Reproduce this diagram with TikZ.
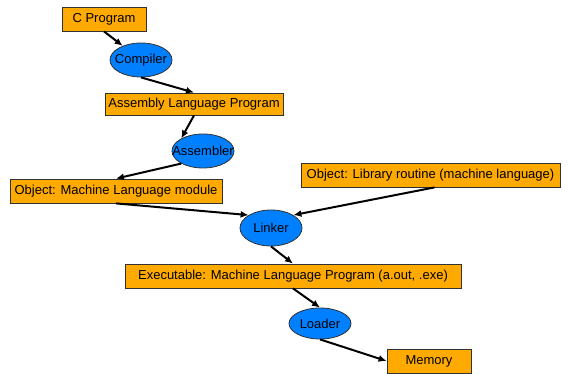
\documentclass[tikz,border=0pt]{standalone}
\usepackage{fontspec}
\setmainfont{Liberation Sans}
\usetikzlibrary{arrows.meta,shapes.geometric}
\definecolor{boxfill}{RGB}{255,170,0}
\definecolor{ovalfill}{RGB}{0,128,255}
\definecolor{edgegray}{RGB}{50,50,50}
% label set in a box of no width, so the oval keeps its given size
\newcommand{\ovaltext}[1]{\makebox[0pt]{#1}}
\begin{document}
\begin{tikzpicture}[x=1pt,y=-1pt,
  every node/.style={font=\fontsize{13}{15}\selectfont, text=black},
  filebox/.style={draw=edgegray, line width=0.8pt, fill=boxfill, rectangle,
    inner sep=0pt, minimum height=24pt},
  tool/.style={draw=edgegray, line width=0.8pt, fill=ovalfill, ellipse,
    inner sep=0pt, minimum width=62pt},
  flow/.style={draw=black, line width=2pt, -{Latex[length=8pt,width=7pt]}}]
\useasboundingbox (0,0) rectangle (578,374);

% source, translation and linking stages
\node[filebox, minimum width=84pt]  (cprog)  at (104,19)  {C Program};
\node[tool, minimum height=34pt]    (comp)   at (141,60)  {\ovaltext{Compiler}};
\node[filebox, minimum width=178pt, minimum height=22pt] (asm) at (194,104) {Assembly Language Program};
\node[tool, minimum height=34pt]    (asmb)   at (203,151) {\ovaltext{Assembler}};
\node[filebox, minimum width=212pt] (obj)    at (116,191) {Object: Machine Language module};
\node[filebox, minimum width=259pt] (lib)    at (430.5,175) {Object: Library routine (machine language)};
\node[tool, minimum height=36pt]    (link)   at (271,228) {\ovaltext{Linker}};
\node[filebox, minimum width=336pt] (exe)    at (293,276) {Executable: Machine Language Program (a.out, .exe)};
\node[tool, minimum height=31pt]    (load)   at (320,323.5) {\ovaltext{Loader}};
\node[filebox, minimum width=84pt]  (mem)    at (429,361) {Memory};

% connectors
\draw[flow] (cprog.south) -- (comp);
\draw[flow] (comp.south) -- (asm.north);
\draw[flow] (asm.south) -- (asmb.150);
\draw[flow] (asmb.210) -- (obj.north);
\draw[flow] (obj.south) -- (link.150);
\draw[flow] ([xshift=4pt]lib.south) -- (link.30);
\draw[flow] (link.south) -- (exe.north);
\draw[flow] (exe.south) -- (load.north);
\draw[flow] (load.south) -- (mem.west);
\end{tikzpicture}
\end{document}
